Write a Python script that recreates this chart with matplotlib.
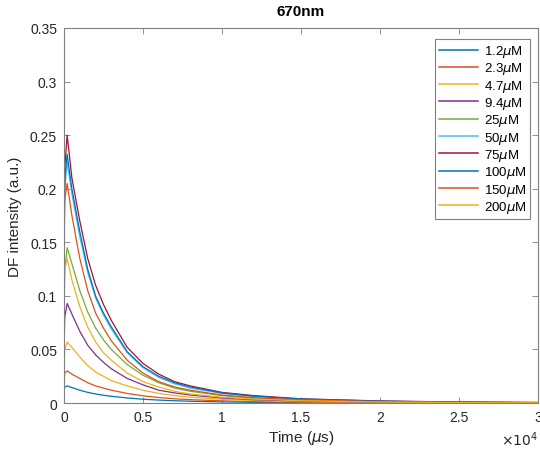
import matplotlib
matplotlib.use("Agg")
import matplotlib.pyplot as plt
from matplotlib.ticker import FuncFormatter, MultipleLocator

plt.rcParams['font.family'] = ['Liberation Sans', 'DejaVu Sans']
plt.rcParams['mathtext.fontset'] = 'dejavusans'

# time grid (us) and read-off DF intensities (a.u.)
time_us = [0, 50, 200, 500, 1000, 1500, 2000, 2500, 3000, 4000, 5000,
           6000, 7000, 8000, 10000, 12000, 15000, 20000, 25000, 30000]

labels = ['1.2$\\mu$M', '2.3$\\mu$M', '4.7$\\mu$M', '9.4$\\mu$M', '25$\\mu$M',
          '50$\\mu$M', '75$\\mu$M', '100$\\mu$M', '150$\\mu$M', '200$\\mu$M']

c1_2 = [0.012, 0.015, 0.016, 0.0145, 0.012, 0.010, 0.0085, 0.0073, 0.0063, 0.0048, 0.0036,
        0.0028, 0.0022, 0.0017, 0.0011, 0.0007, 0.0004, 0.0002, 0.0001, 0.0001]
c2_3 = [0.020, 0.028, 0.030, 0.027, 0.023, 0.019, 0.016, 0.014, 0.012, 0.009, 0.0068,
        0.0052, 0.004, 0.0032, 0.0021, 0.0014, 0.0008, 0.0004, 0.0002, 0.0001]
c4_7 = [0.030, 0.050, 0.057, 0.052, 0.043, 0.035, 0.029, 0.025, 0.021, 0.016, 0.012,
        0.009, 0.007, 0.0055, 0.0036, 0.0024, 0.0014, 0.0007, 0.0003, 0.0002]
c9_4 = [0.050, 0.080, 0.093, 0.083, 0.067, 0.054, 0.045, 0.038, 0.032, 0.023, 0.017,
        0.012, 0.0095, 0.0075, 0.0048, 0.0032, 0.0019, 0.0009, 0.0004, 0.0002]
c25 = [0.080, 0.125, 0.145, 0.130, 0.105, 0.085, 0.070, 0.059, 0.050, 0.036, 0.026,
       0.019, 0.014, 0.011, 0.007, 0.0045, 0.0027, 0.0012, 0.0006, 0.0003]
c50 = [0.140, 0.200, 0.225, 0.195, 0.155, 0.122, 0.098, 0.082, 0.069, 0.047, 0.033,
       0.024, 0.018, 0.014, 0.009, 0.006, 0.0035, 0.0017, 0.0008, 0.0004]
c75 = [0.160, 0.220, 0.250, 0.210, 0.170, 0.135, 0.110, 0.092, 0.077, 0.052, 0.037,
       0.027, 0.020, 0.016, 0.010, 0.007, 0.004, 0.002, 0.001, 0.0006]
c100 = [0.150, 0.210, 0.232, 0.200, 0.160, 0.125, 0.100, 0.084, 0.071, 0.048, 0.034,
        0.025, 0.019, 0.015, 0.0095, 0.0065, 0.0038, 0.0018, 0.0009, 0.0005]
c150 = [0.130, 0.190, 0.205, 0.175, 0.135, 0.105, 0.084, 0.070, 0.058, 0.040, 0.028,
        0.020, 0.015, 0.012, 0.0075, 0.005, 0.003, 0.0014, 0.0007, 0.0003]
c200 = [0.090, 0.125, 0.135, 0.115, 0.090, 0.071, 0.057, 0.047, 0.040, 0.028, 0.020,
        0.015, 0.011, 0.0085, 0.0055, 0.0037, 0.0022, 0.001, 0.0005, 0.0002]

series = [c1_2, c2_3, c4_7, c9_4, c25, c50, c75, c100, c150, c200]

# MATLAB default line colours
line_cols = ['#0072BD', '#D95319', '#EDB120', '#7E2F8E', '#77AC30',
             '#4DBEEE', '#A2142F', '#0072BD', '#D95319', '#EDB120']

fig = plt.figure(figsize=(5.4, 4.52), dpi=100)
ax = fig.add_axes([0.1185, 0.106, 0.8775, 0.830])

for vals, lab, colr in zip(series, labels, line_cols):
    ax.plot(time_us, vals, color=colr, lw=0.9, label=lab)

ax.set_xlim(0, 30000)
ax.set_ylim(0, 0.35)
ax.xaxis.set_major_locator(MultipleLocator(5000))
ax.yaxis.set_major_locator(MultipleLocator(0.05))
ax.xaxis.set_major_formatter(FuncFormatter(lambda v, p: f"{v/1e4:g}"))
ax.yaxis.set_major_formatter(FuncFormatter(lambda v, p: f"{v:g}"))

axcol = '#262626'
for s in ax.spines.values():
    s.set_color('#808080')
    s.set_linewidth(0.8)
ax.tick_params(direction='in', top=True, right=True, length=4, width=0.6,
               color='#808080', labelsize=10, labelcolor=axcol, pad=5)

ax.set_xlabel('Time ($\\mu$s)', fontsize=11, color=axcol, labelpad=3)
ax.set_ylabel('DF intensity (a.u.)', fontsize=11, color=axcol, labelpad=6)
ax.set_title('670nm', fontsize=11, fontweight='bold', color='#000000', pad=9)
ax.text(1.0, -0.07, '$\\times10^4$', transform=ax.transAxes, ha='right', va='top',
        fontsize=10, color=axcol)

leg = ax.legend(loc='upper right', bbox_to_anchor=(0.984, 0.97), fontsize=9.5,
                handlelength=3.0, handletextpad=0.4, labelspacing=0.1,
                borderpad=0.3, borderaxespad=0.0, fancybox=False, framealpha=1)
leg.get_frame().set_edgecolor('#808080')
leg.get_frame().set_linewidth(0.8)
for h in leg.get_lines():
    h.set_linewidth(1.1)

fig.savefig('out.png', dpi=100)
